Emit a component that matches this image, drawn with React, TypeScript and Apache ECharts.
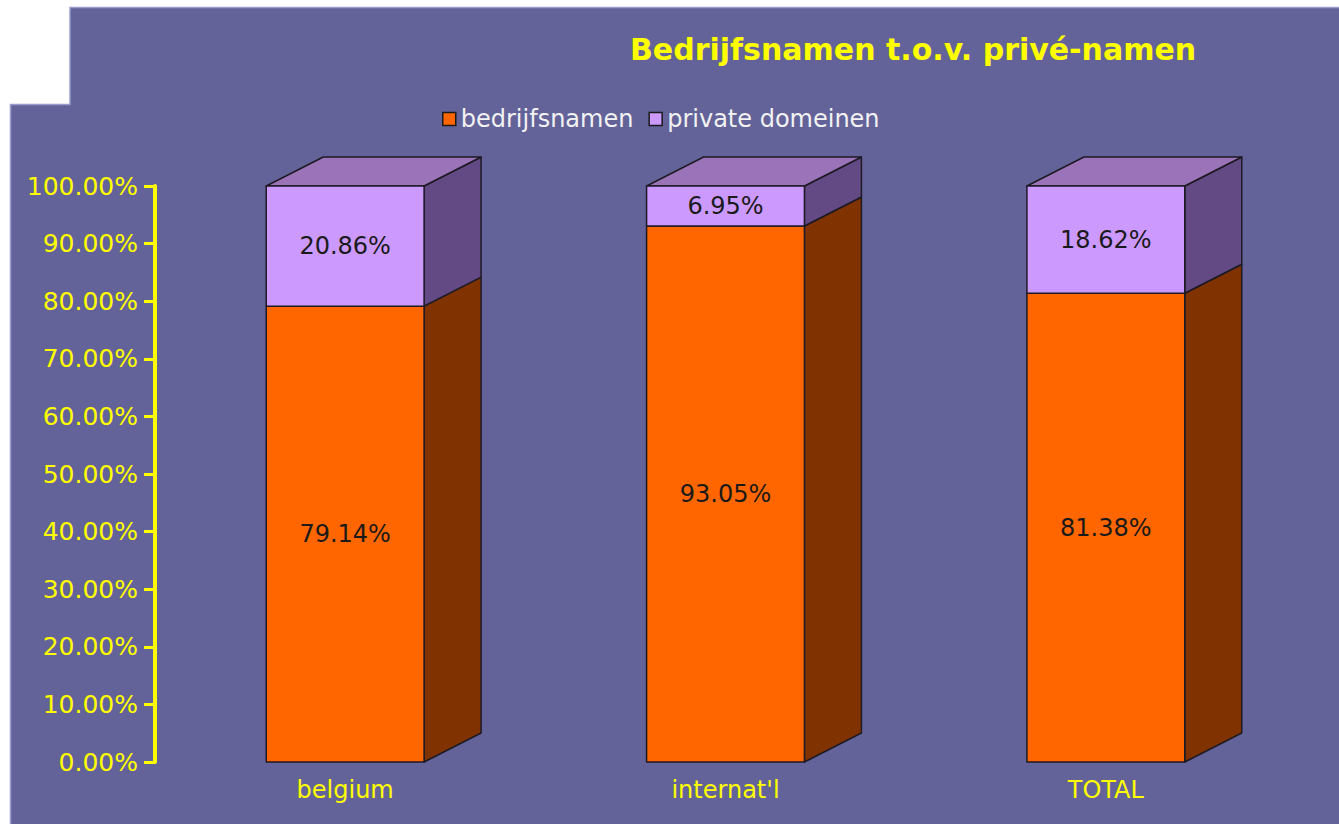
import React, { useEffect, useRef } from "react";
import * as echarts from "echarts";

const categories = ["belgium", "internat'l", "TOTAL"];
const bedrijfsnamen = [79.14, 93.05, 81.38];
const privateDomeinen = [20.86, 6.95, 18.62];
const yTicks = [0, 10, 20, 30, 40, 50, 60, 70, 80, 90, 100];

const FONT = "DejaVu Sans";
const DX = 57;
const DY = 29;

function makeRender(front: string, side: string, topColor: string, isTop: boolean) {
  return (params: any, api: any) => {
    const ci = api.value(0);
    const base = api.value(1);
    const top = api.value(2);
    const [xc, yb] = api.coord([ci, base]);
    const [, yt] = api.coord([ci, top]);
    const w = api.size([1, 0])[0] * 0.415;
    const xl = xc - w / 2;
    const xr = xc + w / 2;
    const stroke = { stroke: "#1e1a24", lineWidth: 1.5, lineJoin: "round" };
    const children: any[] = [
      {
        type: "polygon",
        shape: { points: [[xr, yt], [xr + DX, yt - DY], [xr + DX, yb - DY], [xr, yb]] },
        style: { fill: side, ...stroke },
      },
    ];
    if (isTop) {
      children.push({
        type: "polygon",
        shape: { points: [[xl, yt], [xl + DX, yt - DY], [xr + DX, yt - DY], [xr, yt]] },
        style: { fill: topColor, ...stroke },
      });
    }
    children.push({
      type: "rect",
      shape: { x: xl, y: yt, width: w, height: yb - yt },
      style: { fill: front, ...stroke },
    });
    children.push({
      type: "text",
      x: xc,
      y: (yt + yb) / 2,
      style: {
        text: (top - base).toFixed(2) + "%",
        fill: "#1a1a1a",
        font: `24px "${FONT}"`,
        align: "center",
        verticalAlign: "middle",
      },
    });
    return { type: "group", children };
  };
}

export default function App() {
  const ref = useRef<HTMLDivElement>(null);
  useEffect(() => {
    if (!ref.current) return;
    const chart = echarts.init(ref.current, undefined, { renderer: "svg" });
    const dataB = bedrijfsnamen.map((v, i) => [i, 0, v]);
    const dataP = privateDomeinen.map((v, i) => [i, bedrijfsnamen[i], bedrijfsnamen[i] + v]);
    chart.setOption({
      animation: false,
      backgroundColor: "#ffffff",
      textStyle: { fontFamily: FONT },
      graphic: [
        {
          type: "polygon",
          z: -10,
          shape: {
            points: [[70, 7.5], [1340, 7.5], [1340, 825], [10.5, 825], [10.5, 104.5], [70, 104.5]],
          },
          style: { fill: "#636399", stroke: "#9a9ccc", lineWidth: 1.5 },
        },
        {
          type: "text",
          left: 630,
          top: 34,
          style: {
            text: "Bedrijfsnamen t.o.v. privé-namen",
            fill: "#ffff00",
            font: `bold 30px "${FONT}"`,
          },
        },
      ],
      legend: {
        left: 442,
        top: 107,
        padding: 0,
        itemWidth: 13,
        itemHeight: 13,
        itemGap: 15,
        icon: "rect",
        textStyle: { color: "#f2f2f2", fontSize: 24, fontFamily: FONT },
        data: [
          { name: "bedrijfsnamen", itemStyle: { color: "#ff6600", borderColor: "#1a1a1a", borderWidth: 1.5 } },
          { name: "private domeinen", itemStyle: { color: "#cc99ff", borderColor: "#1a1a1a", borderWidth: 1.5 } },
        ],
      },
      grid: { left: 155, right: 43, top: 186, bottom: 62, containLabel: false },
      xAxis: {
        type: "category",
        data: categories,
        axisLine: { show: false },
        axisTick: { show: false },
        axisLabel: { color: "#ffff00", fontSize: 24, fontFamily: FONT, margin: 16 },
      },
      yAxis: {
        type: "value",
        min: yTicks[0],
        max: yTicks[yTicks.length - 1],
        interval: 10,
        splitLine: { show: false },
        axisLine: { show: true, lineStyle: { color: "#ffff00", width: 4 } },
        axisTick: { show: true, length: 11, lineStyle: { color: "#ffff00", width: 3 } },
        axisLabel: {
          color: "#ffff00",
          fontSize: 25,
          fontFamily: FONT,
          margin: 17,
          formatter: (v: number) => v.toFixed(2) + "%",
        },
      },
      series: [
        {
          name: "bedrijfsnamen",
          type: "custom",
          clip: false,
          itemStyle: { color: "#ff6600" },
          encode: { x: 0, y: [1, 2] },
          renderItem: makeRender("#ff6600", "#803300", "#ff6600", false),
          data: dataB,
        },
        {
          name: "private domeinen",
          type: "custom",
          clip: false,
          itemStyle: { color: "#cc99ff" },
          encode: { x: 0, y: [1, 2] },
          renderItem: makeRender("#cc99ff", "#634a85", "#9b73b9", true),
          data: dataP,
        },
      ],
    });
    return () => chart.dispose();
  }, []);
  return (
    <div
      ref={ref}
      style={{ position: "absolute", left: 0, top: 0, width: 1339, height: 824 }}
    />
  );
}
